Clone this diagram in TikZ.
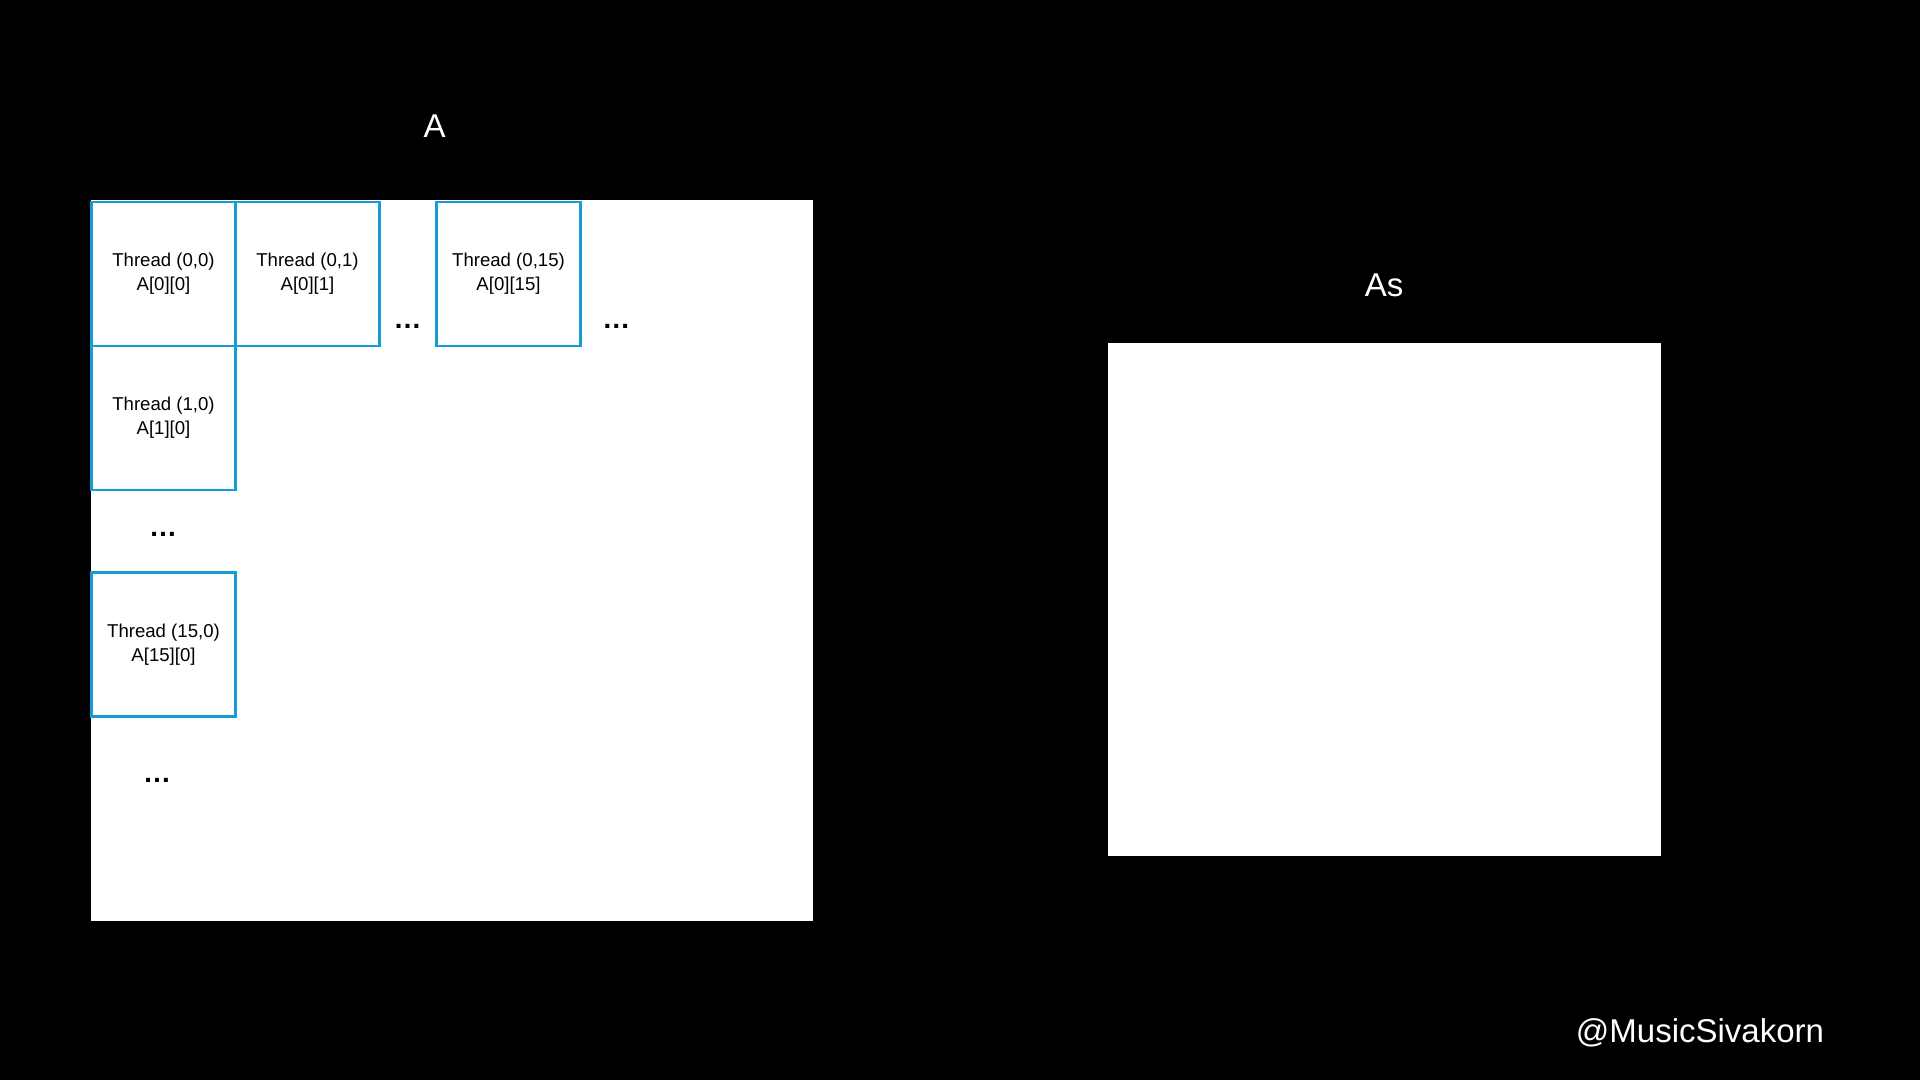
\documentclass[tikz,border=0pt]{standalone}
\usepackage{fontspec}
\setmainfont{Liberation Sans}
\definecolor{cellblue}{RGB}{20,157,215}
\newcommand{\cellfont}{\fontsize{18.6}{24}\selectfont}
\newcommand{\titlefont}{\fontsize{33}{40}\selectfont}
\newcommand{\dotsfont}{\fontsize{28}{34}\selectfont\bfseries}
\begin{document}
\begin{tikzpicture}
[x=1pt,y=-1pt,%
  cellDecorate/.style={draw=cellblue,line width=2.8pt,minimum size=144pt,
    inner sep=0pt,align=center,font=\cellfont},%
  dotsDecorate/.style={anchor=base,inner sep=0pt,font=\dotsfont},%
  titleDecorate/.style={anchor=base,inner sep=0pt,text=white,font=\titlefont}]
%% page and matrices
\fill[black] (0,0) rectangle (1920,1080);
\useasboundingbox (0,0) rectangle (1920,1080);
\fill[white] (90.6,200) rectangle (813,921);
\fill[white] (1108,342.7) rectangle (1661,855.7);
%% titles
\node (titleA) at (434.7,137.7) [titleDecorate] {A};
\node (titleAs) at (1384,296.7) [titleDecorate] {As};
%% thread cells
\foreach \cellname/\x/\y/\row/\col in {
  c00/163.5/274/0/0, c01/307.5/274/0/1, c015/508.5/274/0/15,
  c10/163.5/418/1/0, c150/163.5/644.5/15/0}
{
  \node (\cellname) at (\x,\y) [cellDecorate] {Thread (\row,\col)\\A[\row][\col]};
}
%% ellipses
\foreach \dotsname/\x/\y in {
  d1/407.7/328, d2/616.3/328, d3/163/536, d4/157/782}
{
  \node (\dotsname) at (\x,\y) [dotsDecorate] {…};
}
%% handle
\node (handle) at (1700,1042.3) [titleDecorate] {@MusicSivakorn};
\end{tikzpicture}
\end{document}
